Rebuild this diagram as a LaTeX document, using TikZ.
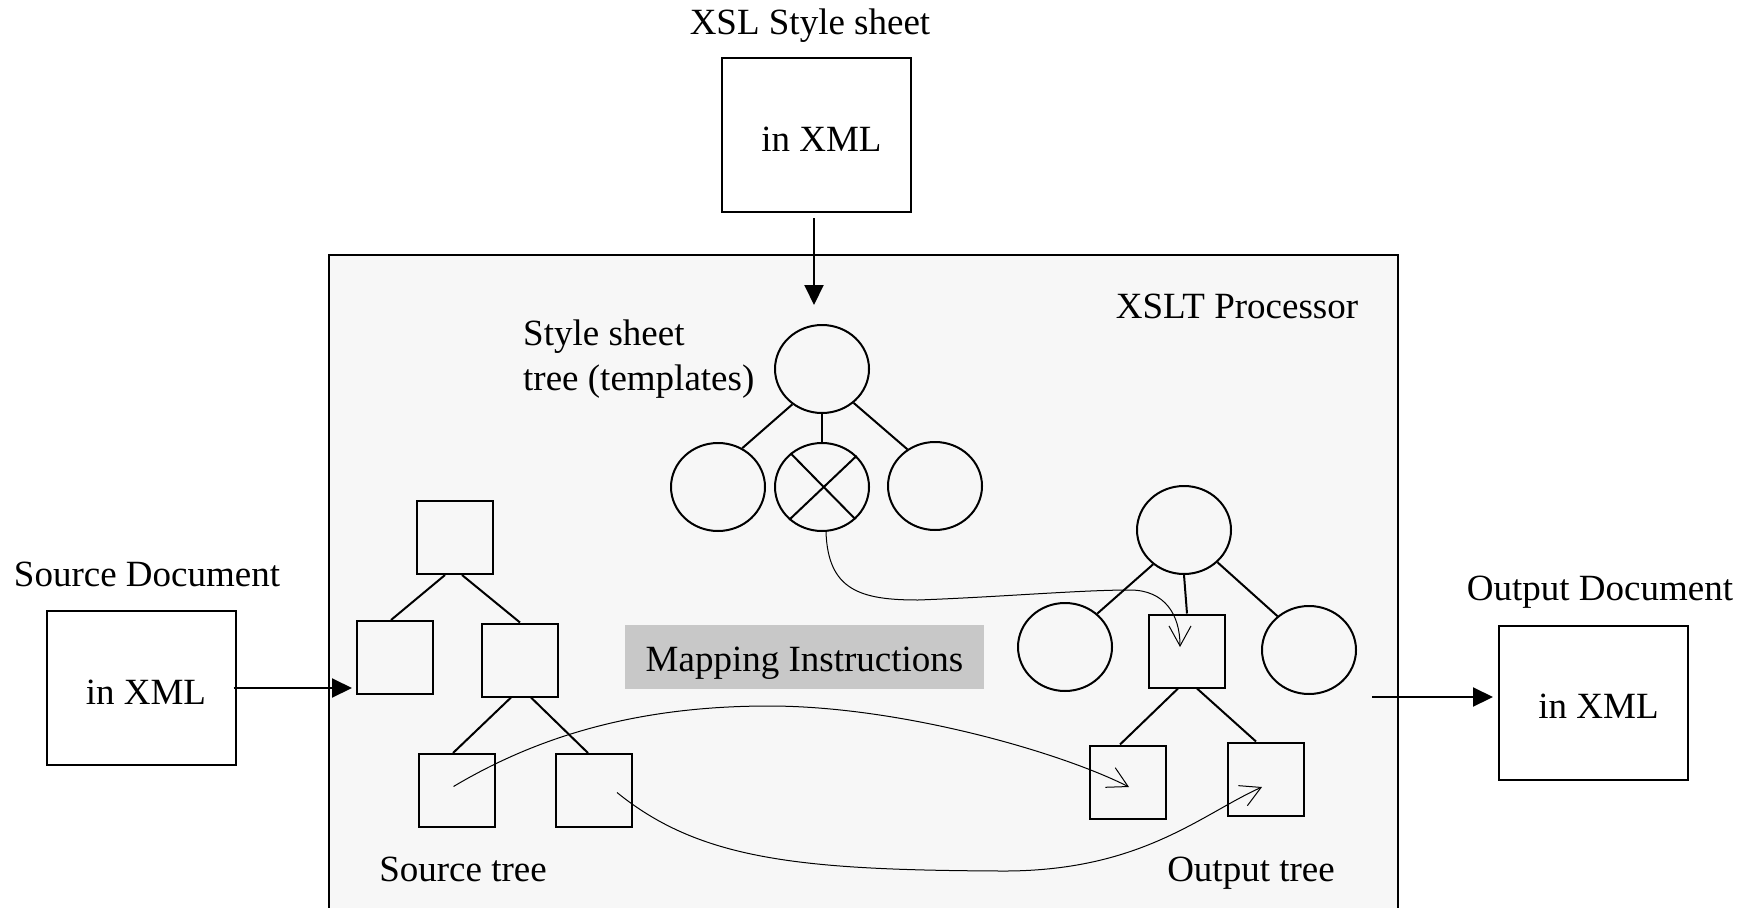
\documentclass[tikz,border=0pt]{standalone}
\usepackage{fontspec}
\setmainfont{Liberation Serif}
\usetikzlibrary{arrows.meta,calc,shapes.geometric}
\definecolor{procfill}{HTML}{F7F7F7}
\definecolor{mapfill}{HTML}{C8C8C8}
\begin{document}
\begin{tikzpicture}[x=1pt,y=-1pt,
  lbl/.style={font=\fontsize{37}{45}\selectfont, inner sep=0pt, text height=25pt, text depth=8pt},
  mlbl/.style={font=\fontsize{37}{45}\selectfont, inner sep=0pt},
  doc/.style={draw, line width=2pt, minimum width=189pt, minimum height=154pt, inner sep=0pt, font=\fontsize{37}{45}\selectfont, text height=32pt, text depth=0pt},
  sq/.style={draw, line width=2pt, minimum width=76pt, minimum height=73pt, inner sep=0pt},
  circ/.style={draw, ellipse, line width=2pt, minimum width=94pt, minimum height=88pt, inner sep=0pt},
  tline/.style={line width=2pt},
  bigarrow/.style={line width=2pt, -{Triangle[length=20pt,width=19pt]}},
  maparrow/.style={line width=1pt, -{Straight Barb[length=20pt,width=22pt]}}]
\useasboundingbox (0,0) rectangle (1747,907);
% processor
\fill[procfill] (329,255) rectangle (1398,912);
\draw[line width=2pt] (329,912) -- (329,255) -- (1398,255) -- (1398,912);
\node[lbl] (proclbl) at (1237,309.5) {XSLT Processor};
% documents
\node[lbl] (xsllbl) at (810,26.5) {XSL Style sheet};
\node[doc] (xsl) at (816.5,135) {\hspace*{10pt}in XML};
\node[doc] (src) at (141,688) {\hspace*{10pt}in XML};
\node[doc] (out) at (1593.5,702.5) {\hspace*{10pt}in XML};
\node[lbl] (srclbl) at (147,577.5) {Source Document};
\node[lbl] (outlbl) at (1600,591.5) {Output Document};
% style sheet tree
\node[circ] (R) at (822,369) {};
\node[circ] (L) at (718,487) {};
\node[circ] (M) at (822,487) {};
\node[circ] (Rt) at (935,486) {};
\draw[tline] (R.-130) -- (L.58);
\draw[tline] (R.-90) -- (M.90);
\draw[tline] (R.-47) -- (Rt.127);
\draw[tline] (M.133) -- (M.-44);
\draw[tline] (M.42) -- (M.-135);
\node[mlbl, align=left, anchor=west] (ssl) at (523,359.5) {Style sheet\\tree (templates)};
% source tree
\node[sq] (S0) at (455,537.5) {};
\node[sq] (S1) at (395,657.5) {};
\node[sq] (S2) at (520,660) {};
\node[sq] (S3) at (456.5,790.5) {};
\node[sq] (S4) at (594,790.5) {};
\draw[tline] ($(S0.south)+(-10,0)$) -- ($(S1.north)+(-4,0)$);
\draw[tline] ($(S0.south)+(7,0)$) -- (S2.north);
\draw[tline] ($(S2.south)+(-9,0)$) -- ($(S3.north)+(-3.5,0)$);
\draw[tline] ($(S2.south)+(11,0)$) -- ($(S4.north)+(-6,0)$);
\node[lbl] (srctree) at (463,872.5) {Source tree};
% mapping
\node[mlbl, fill=mapfill, minimum width=359pt, minimum height=64pt, text height=36pt, text depth=8pt] (map) at (804.5,657) {Mapping Instructions};
% output tree
\node[circ] (O0) at (1184,530) {};
\node[circ] (O1) at (1065,647) {};
\node[sq] (O2) at (1187,651) {};
\node[circ] (O3) at (1309,650) {};
\node[sq] (O4) at (1128,782) {};
\node[sq] (O5) at (1265.5,779) {};
\draw[tline] (O0.-132) -- (O1.46);
\draw[tline] (O0.-90) -- (O2.north);
\draw[tline] (O0.-44) -- (O3.133);
\draw[tline] ($(O2.south)+(-9,0)$) -- ($(O4.north)+(-8,0)$);
\draw[tline] ($(O2.south)+(10,0)$) -- ($(O5.north)+(-9.5,0)$);
\node[lbl] (outtree) at (1251,872.5) {Output tree};
% main arrows
\draw[bigarrow, shorten >=4pt] ($(src.east)+(-3,0)$) -- (src.east -| S1.west);
\coordinate (outstart) at (1372,697);
\draw[bigarrow, shorten >=5pt] (outstart) -- (outstart -| out.west);
\draw[bigarrow, shorten <=5pt, shorten >=19pt] ($(xsl.south)+(-2.5,0)$) -- ($(xsl.south |- R.north)+(-2.5,0)$);
% mapping curves
\draw[maparrow] ($(M.south)+(4,0)$) .. controls (828,590) and (860,600) .. (918,600)
  .. controls (1000,597) and (1080,590) .. (1130,590)
  .. controls (1165,590) and (1180,615) .. ($(O2.center)+(-7,-4)$);
\draw[maparrow] ($(S3.center)+(-3,-4)$) .. controls (540,735) and (640,706) .. (769,706)
  .. controls (900,706) and (1060,752) .. ($(O4.center)+(1,5)$);
\draw[maparrow] ($(S4.center)+(23,2)$) .. controls (700,860) and (800,870) .. (1000,871)
  .. controls (1140,872) and (1200,815) .. ($(O5.center)+(-3.5,8)$);
\end{tikzpicture}
\end{document}
